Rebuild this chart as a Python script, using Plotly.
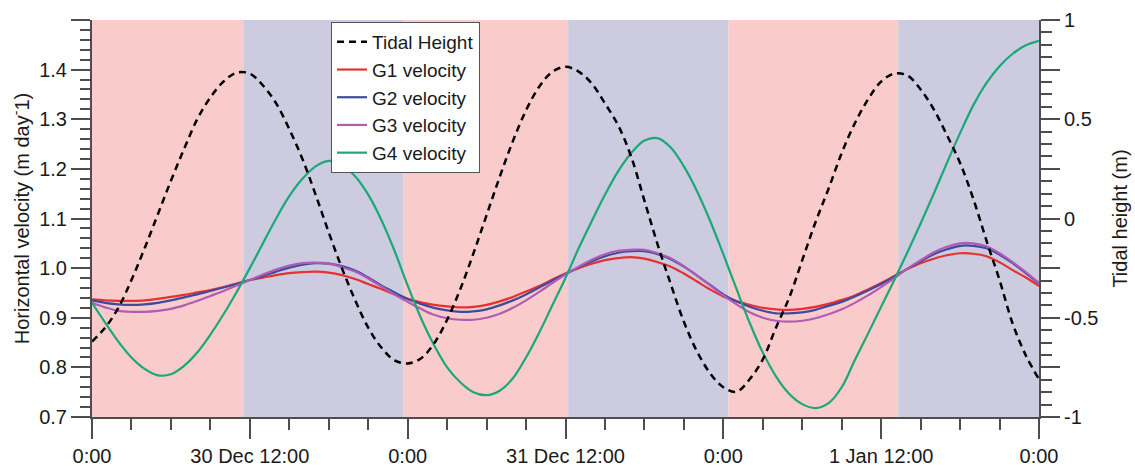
import plotly.graph_objects as go

# Time axis: hours since 30 Dec 0:00, hourly samples
hours = list(range(0, 73))
tick_hours = [0, 12, 24, 36, 48, 60, 72]
tick_labels = ["0:00", "30 Dec 12:00", "0:00", "31 Dec 12:00", "0:00", "1 Jan 12:00", "0:00"]

# Flood / ebb periods (between tidal extremes)
band_edges = [0, 11.5, 23.7, 36.2, 48.4, 61.3, 72]
band_colors = ["#f9cccb", "#cccbdf", "#f9cccb", "#cccbdf", "#f9cccb", "#cccbdf"]

# Tidal height (m)
tide = [-0.62, -0.55, -0.45, -0.31, -0.15, 0.02, 0.19, 0.35, 0.50, 0.61, 0.69, 0.735,
        0.73, 0.67, 0.58, 0.45, 0.30, 0.12, -0.07, -0.25, -0.41, -0.55, -0.65, -0.715,
        -0.73, -0.705, -0.63, -0.51, -0.356, -0.176, 0.017, 0.21, 0.39, 0.545, 0.664, 0.739,
        0.764, 0.74, 0.68, 0.58, 0.47, 0.31, 0.09, -0.13, -0.33, -0.52, -0.67, -0.78,
        -0.85, -0.873, -0.81, -0.71, -0.55, -0.40, -0.21, -0.02, 0.15, 0.33, 0.48, 0.60,
        0.69, 0.73, 0.72, 0.65, 0.55, 0.42, 0.28, 0.10, -0.11, -0.31, -0.53, -0.69,
        -0.81]

# Horizontal velocity (m/day) at the four GPS sites
g1 = [0.937, 0.935, 0.934, 0.934, 0.935, 0.938, 0.942, 0.946, 0.951, 0.956, 0.962, 0.969,
      0.976, 0.981, 0.986, 0.990, 0.992, 0.993, 0.991, 0.986, 0.978, 0.968, 0.958, 0.947,
      0.938, 0.931, 0.926, 0.923, 0.921, 0.922, 0.926, 0.933, 0.942, 0.953, 0.964, 0.977,
      0.989, 1.000, 1.009, 1.016, 1.020, 1.022, 1.019, 1.012, 1.003, 0.989, 0.973, 0.957,
      0.943, 0.933, 0.926, 0.920, 0.917, 0.916, 0.918, 0.922, 0.928, 0.936, 0.945, 0.957,
      0.970, 0.984, 0.998, 1.010, 1.019, 1.026, 1.030, 1.029, 1.024, 1.012, 0.996, 0.981,
      0.964]
g2 = [0.935, 0.930, 0.927, 0.926, 0.927, 0.930, 0.935, 0.941, 0.947, 0.954, 0.961, 0.968,
      0.976, 0.984, 0.993, 1.001, 1.007, 1.010, 1.009, 1.004, 0.995, 0.981, 0.965, 0.951,
      0.938, 0.928, 0.920, 0.915, 0.912, 0.913, 0.917, 0.925, 0.935, 0.947, 0.961, 0.975,
      0.988, 1.002, 1.014, 1.024, 1.031, 1.034, 1.034, 1.028, 1.018, 1.003, 0.985, 0.966,
      0.947, 0.933, 0.922, 0.914, 0.909, 0.909, 0.911, 0.916, 0.924, 0.932, 0.943, 0.955,
      0.968, 0.983, 0.999, 1.014, 1.028, 1.038, 1.045, 1.045, 1.040, 1.027, 1.010, 0.990,
      0.969]
g3 = [0.930, 0.921, 0.914, 0.912, 0.912, 0.914, 0.918, 0.925, 0.934, 0.944, 0.954, 0.965,
      0.976, 0.987, 0.997, 1.005, 1.010, 1.011, 1.009, 1.002, 0.993, 0.979, 0.963, 0.947,
      0.932, 0.918, 0.906, 0.899, 0.896, 0.896, 0.900, 0.908, 0.920, 0.935, 0.952, 0.970,
      0.987, 1.003, 1.017, 1.028, 1.035, 1.037, 1.037, 1.030, 1.020, 1.004, 0.985, 0.965,
      0.945, 0.927, 0.911, 0.900, 0.894, 0.892, 0.894, 0.899, 0.907, 0.917, 0.930, 0.945,
      0.962, 0.980, 0.999, 1.016, 1.032, 1.043, 1.050, 1.050, 1.044, 1.030, 1.012, 0.992,
      0.970]
g4 = [0.930, 0.890, 0.852, 0.820, 0.797, 0.784, 0.786, 0.803, 0.830, 0.866, 0.907, 0.952,
      1.000, 1.050, 1.100, 1.145, 1.180, 1.205, 1.216, 1.207, 1.185, 1.148, 1.097, 1.035,
      0.965, 0.900, 0.845, 0.800, 0.770, 0.750, 0.744, 0.753, 0.778, 0.820, 0.870, 0.925,
      0.980, 1.040, 1.095, 1.148, 1.195, 1.232, 1.257, 1.262, 1.243, 1.205, 1.155, 1.095,
      1.028, 0.958, 0.890, 0.830, 0.782, 0.747, 0.726, 0.718, 0.728, 0.760, 0.815, 0.868,
      0.922, 0.976, 1.032, 1.090, 1.150, 1.212, 1.272, 1.328, 1.373, 1.407, 1.432, 1.449,
      1.458]

vel_ticks = [0.7, 0.8, 0.9, 1.0, 1.1, 1.2, 1.3, 1.4, 1.5]
vel_labels = ["0.7", "0.8", "0.9", "1.0", "1.1", "1.2", "1.3", "1.4", ""]
tide_ticks = [-1, -0.75, -0.5, -0.25, 0, 0.25, 0.5, 0.75, 1]
tide_labels = ["-1", "", "-0.5", "", "0", "", "0.5", "", "1"]

FONT = "Liberation Sans, Arial, sans-serif"
AX = "#4d4d4d"

fig = go.Figure()

fig.add_trace(go.Scatter(x=hours, y=tide, name="Tidal Height", yaxis="y2",
                         mode="lines", line=dict(color="black", width=2.5, dash="7px,5px",
                                                 shape="spline", smoothing=1)))
for name, vals, col in [("G1 velocity", g1, "#e8302f"),
                        ("G2 velocity", g2, "#3d4b9e"),
                        ("G3 velocity", g3, "#b05cb6"),
                        ("G4 velocity", g4, "#1aa878")]:
    fig.add_trace(go.Scatter(x=hours, y=vals, name=name, mode="lines",
                             line=dict(color=col, width=2.2, shape="spline", smoothing=1)))

for i in range(len(band_colors)):
    fig.add_shape(type="rect", xref="x", yref="paper", x0=band_edges[i], x1=band_edges[i + 1],
                  y0=0, y1=1, fillcolor=band_colors[i], line_width=0, layer="below")

fig.update_layout(
    width=1135, height=468,
    margin=dict(l=92, r=96, t=20, b=51),
    paper_bgcolor="white", plot_bgcolor="white",
    font=dict(family=FONT, size=20, color="#1a1a1a"),
    showlegend=True,
    legend=dict(x=0.2524, y=0.995, xanchor="left", yanchor="top",
                bgcolor="white", bordercolor="#555555", borderwidth=1,
                font=dict(size=19), itemwidth=30),
    xaxis=dict(range=[0, 72], tickvals=tick_hours, ticktext=tick_labels, automargin=False,
               showgrid=False, zeroline=False, showline=True, linecolor=AX, linewidth=2,
               ticks="outside", ticklen=20, tickwidth=2, tickcolor=AX,
               ticklabelstandoff=0,
               minor=dict(dtick=3, ticks="outside", ticklen=11, tickwidth=2, tickcolor=AX)),
    yaxis=dict(range=[0.7, 1.5], tickvals=vel_ticks, ticktext=vel_labels, automargin=False,
               showgrid=False, zeroline=False, showline=True, linecolor=AX, linewidth=2,
               ticks="outside", ticklen=19, tickwidth=2, tickcolor=AX,
               title=dict(text="Horizontal velocity (m day<sup>-</sup>1)", standoff=4,
                          font=dict(size=20)),
               minor=dict(dtick=0.02, tick0=0.7, ticks="outside", ticklen=10,
                          tickwidth=2, tickcolor=AX)),
    yaxis2=dict(range=[-1, 1], overlaying="y", side="right", anchor="x", automargin=False,
                tickvals=tide_ticks, ticktext=tide_labels,
                showgrid=False, zeroline=False, showline=True, linecolor=AX, linewidth=2,
                ticks="outside", ticklen=19, tickwidth=2, tickcolor=AX,
                title=dict(text="Tidal height (m)", standoff=16, font=dict(size=20)),
                minor=dict(dtick=0.0625, tick0=-1, ticks="outside", ticklen=11,
                           tickwidth=2, tickcolor=AX)),
)

fig.write_html("out.html")
